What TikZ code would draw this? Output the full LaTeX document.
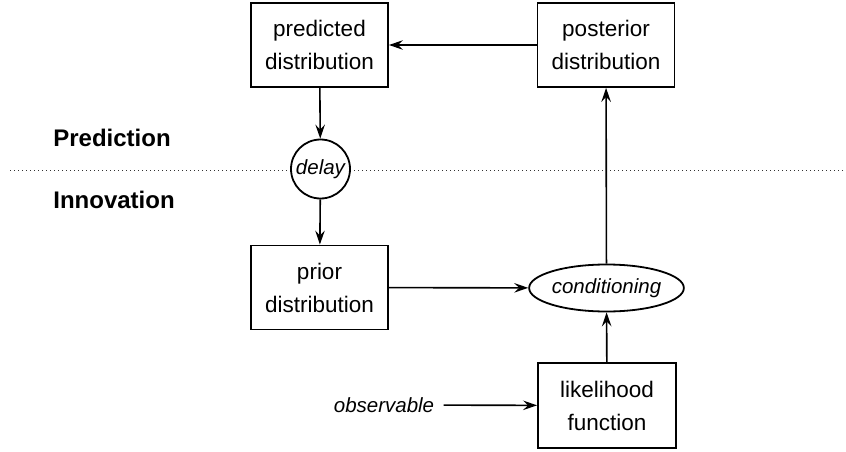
\documentclass[tikz,border=0pt]{standalone}
\usepackage{fontspec}
\setmainfont{Liberation Sans}
\usetikzlibrary{arrows.meta,shapes.geometric}
\begin{document}
\begin{tikzpicture}[x=1pt,y=1pt,
  box/.style={draw,line width=1.8pt,minimum width=137pt,minimum height=84pt,align=center,font=\fontsize{22.5}{33}\selectfont,inner sep=0pt},
  conn/.style={line width=1.6pt,-{Stealth[length=14pt,width=9.5pt,inset=5pt]}},
  itl/.style={font=\fontsize{20.5}{24}\selectfont\itshape},
  phase/.style={font=\fontsize{24}{28}\selectfont\bfseries}]
\useasboundingbox[fill=white] (0,0) rectangle (846,451);
% phase separator
\draw[line width=1pt,dash pattern=on 1pt off 3pt,black!80] (10,281) -- (846,281);
\node[phase] (lpred) at (112,313) {Prediction};
\node[phase] (linno) at (114,251) {Innovation};
% blocks
\node[box] (pred) at (319.5,406) {predicted\\distribution};
\node[box] (post) at (606,406) {posterior\\distribution};
\node[draw,circle,fill=white,line width=1.8pt,minimum size=59pt,inner sep=0pt,itl] (delay) at (320.5,282) {delay};
\node[box] (prior) at (319.5,163.5) {prior\\distribution};
\node[draw,ellipse,line width=1.8pt,minimum width=130pt,minimum height=47pt,inner sep=0pt,itl] (cond) at (606.5,163) {conditioning};
\node[box,minimum width=138pt,minimum height=85pt] (lik) at (607,45.5) {likelihood\\function};
\node[itl] (obs) at (384,46) {observable};
% connectors
\draw[conn] (post) -- (pred);
\draw[conn] (pred) -- (delay);
\draw[conn] (delay) -- (prior);
\draw[conn] (prior) -- (cond);
\draw[conn] (cond) -- (post);
\draw[conn] (lik) -- (cond);
\draw[conn,shorten <=6pt] (obs) -- (lik);
\end{tikzpicture}
\end{document}
